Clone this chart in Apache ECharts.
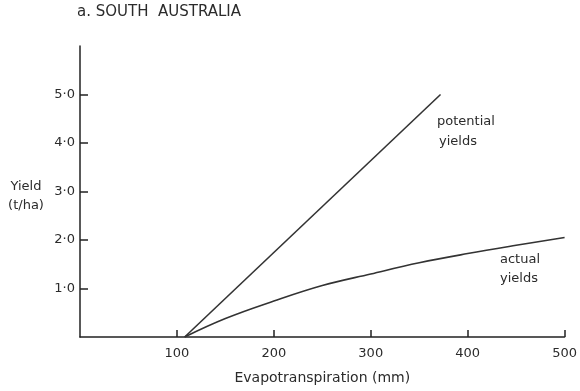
<!DOCTYPE html>
<html>
<head>
<meta charset="utf-8">
<script src="https://cdn.jsdelivr.net/npm/echarts@6/dist/echarts.min.js"></script>
<style>html,body{margin:0;padding:0;background:#fff}#c{width:580px;height:391px}</style>
</head>
<body>
<div id="c"></div>
<script>
var xTicks = [100, 200, 300, 400, 500];
var yTicks = [1, 2, 3, 4, 5];
var potentialYields = [[108, 0], [372, 5.0]];
var actualYields = [[108, 0], [150, 0.38], [200, 0.74], [250, 1.06], [300, 1.30], [350, 1.53], [400, 1.72], [450, 1.89], [500, 2.05]];

var font = 'DejaVu Sans';
var ink = '#2b2b2b';
var chart = echarts.init(document.getElementById('c'));
chart.setOption({
  backgroundColor: '#fff',
  animation: false,
  grid: {left: 80, right: 13, top: 46, bottom: 54},
  xAxis: {
    type: 'value', min: 0, max: 500,
    name: 'Evapotranspiration (mm)', nameLocation: 'middle', nameGap: 34,
    nameTextStyle: {fontFamily: font, fontSize: 14, color: ink},
    axisLine: {show: true, lineStyle: {color: '#222', width: 1.5}},
    axisTick: {show: true, inside: true, length: 7, customValues: xTicks, lineStyle: {color: '#222', width: 1.5}},
    axisLabel: {customValues: xTicks, fontFamily: font, fontSize: 13, color: ink, margin: 10},
    splitLine: {show: false}
  },
  yAxis: {
    type: 'value', min: 0, max: 6,
    axisLine: {show: true, lineStyle: {color: '#222', width: 1.5}},
    axisTick: {show: true, inside: true, length: 8, customValues: yTicks, lineStyle: {color: '#222', width: 1.5}},
    axisLabel: {customValues: yTicks, fontFamily: font, fontSize: 13, color: ink, margin: 5,
      formatter: function (v) { return v.toFixed(1).replace('.', '\u00b7'); }},
    splitLine: {show: false}
  },
  series: [
    {type: 'line', data: potentialYields, symbol: 'none', lineStyle: {color: '#333', width: 1.6}},
    {type: 'line', data: actualYields, symbol: 'none', smooth: 0.4, lineStyle: {color: '#333', width: 1.6}}
  ],
  graphic: [
    {type: 'text', left: 77, top: 5, style: {text: 'a. SOUTH  AUSTRALIA', font: '15px "DejaVu Sans"', fill: ink}},
    {type: 'text', x: 26, y: 187, style: {text: 'Yield', font: '13px "DejaVu Sans"', fill: ink, align: 'center', verticalAlign: 'middle'}},
    {type: 'text', x: 26, y: 206, style: {text: '(t/ha)', font: '13px "DejaVu Sans"', fill: ink, align: 'center', verticalAlign: 'middle'}},
    {type: 'text', x: 437, y: 122, style: {text: 'potential', font: '13px "DejaVu Sans"', fill: ink, verticalAlign: 'middle'}},
    {type: 'text', x: 439, y: 142, style: {text: 'yields', font: '13px "DejaVu Sans"', fill: ink, verticalAlign: 'middle'}},
    {type: 'text', x: 500, y: 260, style: {text: 'actual', font: '13px "DejaVu Sans"', fill: ink, verticalAlign: 'middle'}},
    {type: 'text', x: 500, y: 279, style: {text: 'yields', font: '13px "DejaVu Sans"', fill: ink, verticalAlign: 'middle'}}
  ]
});
</script>
</body>
</html>
